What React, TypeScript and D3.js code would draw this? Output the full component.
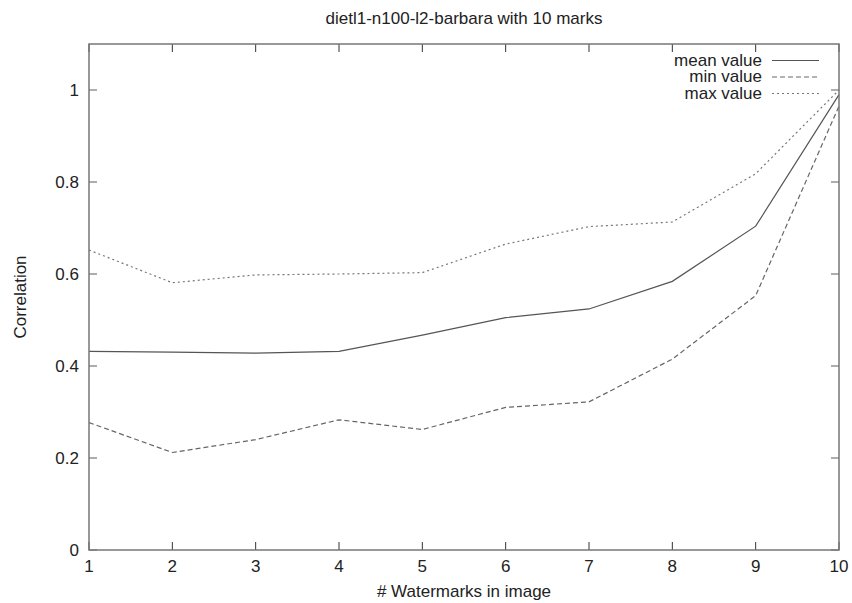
import React from "react";
import * as d3 from "d3";

const marks = [1, 2, 3, 4, 5, 6, 7, 8, 9, 10];
const meanValues = [0.432, 0.43, 0.428, 0.432, 0.467, 0.505, 0.524, 0.584, 0.704, 0.99];
const minValues = [0.277, 0.212, 0.24, 0.283, 0.262, 0.31, 0.322, 0.415, 0.553, 0.965];
const maxValues = [0.652, 0.581, 0.598, 0.6, 0.603, 0.665, 0.703, 0.713, 0.818, 1.0];
const yTicks = [0, 0.2, 0.4, 0.6, 0.8, 1];
const yTickLabels = ["0", "0.2", "0.4", "0.6", "0.8", "1"];
const xTickLabels = ["1", "2", "3", "4", "5", "6", "7", "8", "9", "10"];
const seriesNames = ["mean value", "min value", "max value"];

const W = 852, H = 603;
const L = 89, R = 839, T = 44, B = 550;
const font = "'Liberation Sans', Arial, sans-serif";

export default function App() {
  const x = d3.scaleLinear().domain([1, 10]).range([L, R]);
  const y = d3.scaleLinear().domain([0, 1.1]).range([B, T]);
  const line = d3.line<number>().x((_, i) => x(marks[i])).y((v) => y(v));
  const series = [
    { name: seriesNames[0], values: meanValues, dash: "none", color: "#555" },
    { name: seriesNames[1], values: minValues, dash: "5,3", color: "#666" },
    { name: seriesNames[2], values: maxValues, dash: "2,3", color: "#777" },
  ];
  const axisColor = "#777";
  const tick = 8;
  const fs = 17;
  return (
    <svg width={W} height={H} style={{ position: "absolute", left: 0, top: 0, background: "#fff" }} fontFamily={font}>
      <rect x={0} y={0} width={W} height={H} fill="#fff" />
      <text x={464} y={24} textAnchor="middle" fontSize={fs} fill="#222">dietl1-n100-l2-barbara with 10 marks</text>
      {yTicks.map((t, i) => (
        <g key={"y" + i}>
          <line x1={L} x2={L + tick} y1={y(t)} y2={y(t)} stroke={axisColor} strokeWidth={1.2} />
          <line x1={R} x2={R - tick} y1={y(t)} y2={y(t)} stroke={axisColor} strokeWidth={1.2} />
          <text x={79} y={y(t) + 6} textAnchor="end" fontSize={fs} fill="#222">{yTickLabels[i]}</text>
        </g>
      ))}
      {marks.map((m, i) => (
        <g key={"x" + i}>
          <line x1={x(m)} x2={x(m)} y1={B} y2={B - tick} stroke="#333" strokeWidth={1} />
          <line x1={x(m)} x2={x(m)} y1={T} y2={T + tick} stroke="#333" strokeWidth={1} />
          <text x={x(m)} y={572} textAnchor="middle" fontSize={fs} fill="#222">{xTickLabels[i]}</text>
        </g>
      ))}
      {series.map((s) => (
        <path key={s.name} d={line(s.values) || ""} fill="none" stroke={s.color} strokeWidth={1.2} strokeDasharray={s.dash} />
      ))}
      <rect x={L} y={T} width={R - L} height={B - T} fill="none" stroke={axisColor} strokeWidth={1.5} />
      {series.map((s, i) => (
        <g key={"lg" + i}>
          <text x={762} y={65.5 + i * 16.5} textAnchor="end" fontSize={fs} fill="#222">{s.name}</text>
          <line x1={772} x2={819} y1={60.5 + i * 16.5} y2={60.5 + i * 16.5} stroke={s.color} strokeWidth={1.2} strokeDasharray={s.dash} />
        </g>
      ))}
      <text x={464} y={597} textAnchor="middle" fontSize={fs} fill="#222"># Watermarks in image</text>
      <text transform={`translate(25.5,297) rotate(-90)`} textAnchor="middle" fontSize={fs} fill="#222">Correlation</text>
    </svg>
  );
}
